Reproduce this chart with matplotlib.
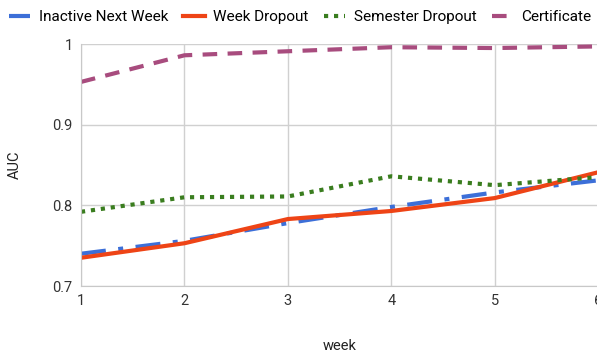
import matplotlib
matplotlib.use('Agg')
import matplotlib.pyplot as plt

plt.rcParams['font.family'] = ['Roboto', 'DejaVu Sans']

weeks = [1, 2, 3, 4, 5, 6]
inactive_next_week = [0.740, 0.756, 0.778, 0.798, 0.816, 0.831]
week_dropout = [0.735, 0.753, 0.783, 0.793, 0.809, 0.841]
semester_dropout = [0.792, 0.810, 0.811, 0.836, 0.825, 0.835]
certificate = [0.953, 0.986, 0.991, 0.996, 0.995, 0.997]

fig = plt.figure(figsize=(5.97, 3.55), dpi=100)
ax = fig.add_axes([81/597, 1-286/355, 1-81/597 + 0.002, (286-44)/355])

ax.plot(weeks, inactive_next_week, color='#3c6fd8', lw=3, dashes=(6, 3, 1.2, 3), label='Inactive Next Week')
ax.plot(weeks, week_dropout, color='#ee4416', lw=3, label='Week Dropout')
ax.plot(weeks, semester_dropout, color='#3a7d1f', lw=3, dashes=(1, 1.4), label='Semester Dropout')
ax.plot(weeks, certificate, color='#a84c7e', lw=3, dashes=(3.5, 2.5), label='Certificate')

ax.set_xlim(1, 6)
ax.set_ylim(0.7, 1.0)
ax.set_xticks(weeks)
ax.set_yticks([0.7, 0.8, 0.9, 1.0])
ax.set_yticklabels(['0.7', '0.8', '0.9', '1'])
ax.grid(True, color='#d0d0d0', lw=1)
ax.set_axisbelow(True)
for s in ['top', 'right']:
    ax.spines[s].set_visible(False)
for s in ['left', 'bottom']:
    ax.spines[s].set_color('#c8c8c8')
ax.tick_params(length=0, labelsize=10.5, colors='#333333', pad=6)
ax.set_xlabel('week', fontsize=10.5, color='#222222', labelpad=22)
ax.set_ylabel('AUC', fontsize=10.5, color='#222222', labelpad=22)

fig.legend(loc='upper left', bbox_to_anchor=(-0.008, 1.01), ncol=4, frameon=False,
           fontsize=11, handlelength=1.4, handletextpad=0.55, columnspacing=1.0)

fig.savefig('out.png', dpi=100)
